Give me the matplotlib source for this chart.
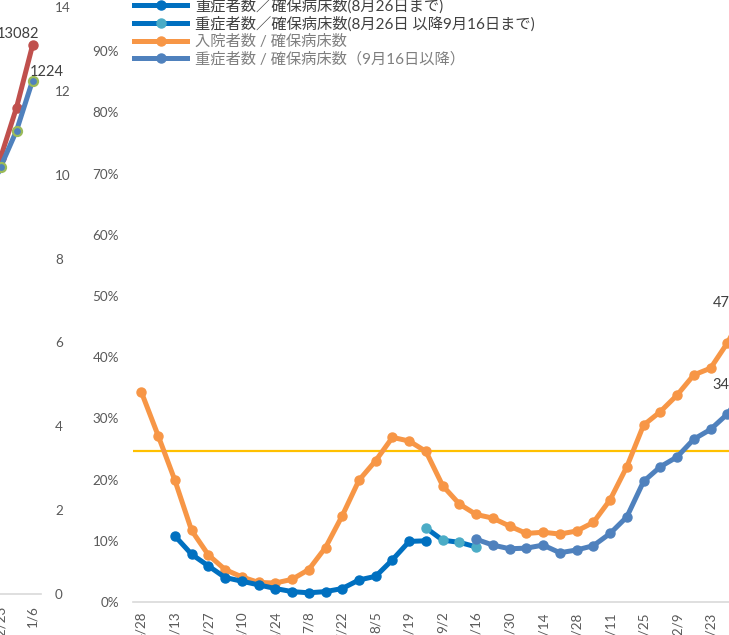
import matplotlib

matplotlib.use("Agg")
import matplotlib.pyplot as plt
import numpy as np

plt.rcParams["font.family"] = ["Lato", "Noto Sans CJK JP"]

# weekly dates of the main chart (index 36 = 1/6 lies just past the right edge)
week_labels = [
    "4/28", "5/6", "5/13", "5/20", "5/27", "6/3", "6/10", "6/17", "6/24",
    "7/1", "7/8", "7/15", "7/22", "7/29", "8/5", "8/12", "8/19", "8/26",
    "9/2", "9/9", "9/16", "9/23", "9/30", "10/7", "10/14", "10/21", "10/28",
    "11/4", "11/11", "11/18", "11/25", "12/2", "12/9", "12/16", "12/23",
    "12/30", "1/6",
]

# 入院者数 / 確保病床数 (%)
hosp_ratio = [
    34.3, 27.2, 19.9, 11.7, 7.7, 5.3, 4.1, 3.2, 3.1, 3.7, 5.3, 8.9, 14.1,
    19.9, 23.1, 26.9, 26.3, 24.6, 19.0, 16.0, 14.3, 13.7, 12.4, 11.2, 11.4,
    11.1, 11.6, 13.0, 16.7, 22.1, 28.9, 31.1, 33.8, 37.1, 38.2, 42.3, 47.3,
]

# 重症者数／確保病床数 (8月26日まで), starts at 5/13
severe_old_start = 2
severe_old = [10.8, 7.8, 5.9, 4.0, 3.4, 2.8, 2.2, 1.7, 1.5, 1.7, 2.2, 3.6,
              4.2, 6.9, 9.9, 10.0]

# 重症者数／確保病床数 (8月26日以降9月16日まで)
severe_mid_start = 17
severe_mid = [12.1, 10.1, 9.75, 9.0]

# 重症者数 / 確保病床数 (9月16日以降)
severe_new_start = 20
severe_new = [10.25, 9.3, 8.7, 8.8, 9.3, 8.05, 8.5, 9.2, 11.2, 13.9, 19.7,
              22.1, 23.7, 26.6, 28.2, 30.7, 34.4]

threshold = 24.6

# small chart on the left (only its last weeks are visible)
left_labels = ["12/16", "12/23", "12/30", "1/6"]
left_red = [9.4, 10.4, 11.6, 13.082]
left_blue = [9.2, 10.18, 11.05, 12.24]

W, H = 729, 635
fig = plt.figure(figsize=(W / 100, H / 100), dpi=100)

GRAY = "#595959"
AXIS = "#D9D9D9"
LW = 3.6
MS = 6.5

# ---- main chart ----
step = 16.74
x0_px, y0_px = 133, 602
ax = fig.add_axes([x0_px / W, (H - y0_px) / H, 38 * step / W, 612 / H])
ax.set_xlim(-0.5, 37.5)
ax.set_ylim(0, 100)

ax.axhline(threshold, color="#FFC000", lw=1.6, zorder=1)

x_all = np.arange(len(hosp_ratio))
ax.plot(x_all, hosp_ratio, color="#F79646", lw=LW, marker="o", ms=MS,
        label="入院者数 / 確保病床数", zorder=3)
x_old = np.arange(severe_old_start, severe_old_start + len(severe_old))
ax.plot(x_old, severe_old, color="#0070C0", lw=LW, marker="o", ms=MS,
        label="重症者数／確保病床数(8月26日まで)", zorder=4)
x_mid = np.arange(severe_mid_start, severe_mid_start + len(severe_mid))
ax.plot(x_mid, severe_mid, color="#0070C0", lw=LW, marker="o", ms=MS,
        mfc="#4BACC6", mec="#4BACC6",
        label="重症者数／確保病床数(8月26日 以降9月16日まで)", zorder=4)
x_new = np.arange(severe_new_start, severe_new_start + len(severe_new))
ax.plot(x_new, severe_new, color="#4F81BD", lw=LW, marker="o", ms=MS,
        label="重症者数 / 確保病床数（9月16日以降）", zorder=4)

ax.annotate(f"{hosp_ratio[-1]:.1f}%", (x_all[-1], hosp_ratio[-1]),
            xytext=(-22.5, 7), textcoords="offset points", ha="left",
            va="center", fontsize=10.5, color="#404040")
ax.annotate(f"{severe_new[-1]:.1f}%", (x_new[-1], severe_new[-1]),
            xytext=(-22.5, 5), textcoords="offset points", ha="left",
            va="center", fontsize=10.5, color="#404040")

ax.set_xticks(x_all[::2])
ax.set_xticklabels(week_labels[::2], rotation=90, ha="center", va="top")
ax.set_yticks(np.arange(0, 100, 10))
ax.set_yticklabels([f"{v}%" for v in range(0, 100, 10)])
ax.tick_params(length=0, colors=GRAY, labelsize=9.7)
ax.tick_params(axis="y", pad=10)
ax.tick_params(axis="x", pad=7)
for side in ["top", "right", "left"]:
    ax.spines[side].set_visible(False)
ax.spines["bottom"].set_color(AXIS)
ax.spines["bottom"].set_linewidth(1.2)
ax.patch.set_alpha(0)

handles, labels = ax.get_legend_handles_labels()
order = [1, 2, 0, 3]
leg = ax.legend([handles[i] for i in order], [labels[i] for i in order],
                loc="upper left", bbox_to_anchor=(134 / W, 1 + 2 / H),
                bbox_transform=fig.transFigure, frameon=False, fontsize=11,
                handlelength=3.5, handletextpad=0.5, labelspacing=0.21,
                borderaxespad=0, borderpad=0)
for i, t in enumerate(leg.get_texts()):
    t.set_color("#404040" if i < 2 else "#7F7F7F")

# ---- left chart ----
lstep = 16
lx_right, ly0 = 40.5, 594
lax = fig.add_axes([(lx_right - 4 * lstep) / W, (H - ly0) / H, 4 * lstep / W,
                    (ly0 - 7) / H])
lax.set_xlim(-0.5, 3.5)
lax.set_ylim(0, 14)
lx = np.arange(len(left_labels))
lax.plot(lx, left_red, color="#C0504D", lw=LW, marker="o", ms=MS,
         clip_on=False)
lax.plot(lx, left_blue, color="#4F81BD", lw=LW, marker="o", ms=MS,
         mfc="#4F81BD", mec="#9BBB59", mew=1.6, clip_on=False)
lax.annotate(f"{left_red[-1] * 1000:.0f}", (lx[-1], left_red[-1]),
             xytext=(4.5, 8.5), textcoords="offset points", ha="right",
             va="center", fontsize=10.5, color="#404040")
lax.annotate(f"{left_blue[-1] * 100:.0f}", (lx[-1], left_blue[-1]),
             xytext=(-2, 6), textcoords="offset points", ha="left",
             va="center", fontsize=10.5, color="#404040")
lax.set_xticks([1, 3])
lax.set_xticklabels([left_labels[1], left_labels[3]], rotation=90,
                    ha="center", va="top")
lax.yaxis.tick_right()
lax.set_yticks(np.arange(0, 15, 2))
lax.tick_params(length=0, colors=GRAY, labelsize=9.7)
lax.tick_params(axis="y", pad=10.5)
lax.tick_params(axis="x", pad=8)
for side in ["top", "right", "left"]:
    lax.spines[side].set_visible(False)
lax.spines["bottom"].set_color(AXIS)
lax.spines["bottom"].set_linewidth(1.2)
lax.patch.set_alpha(0)

fig.savefig("out.png", dpi=100)
